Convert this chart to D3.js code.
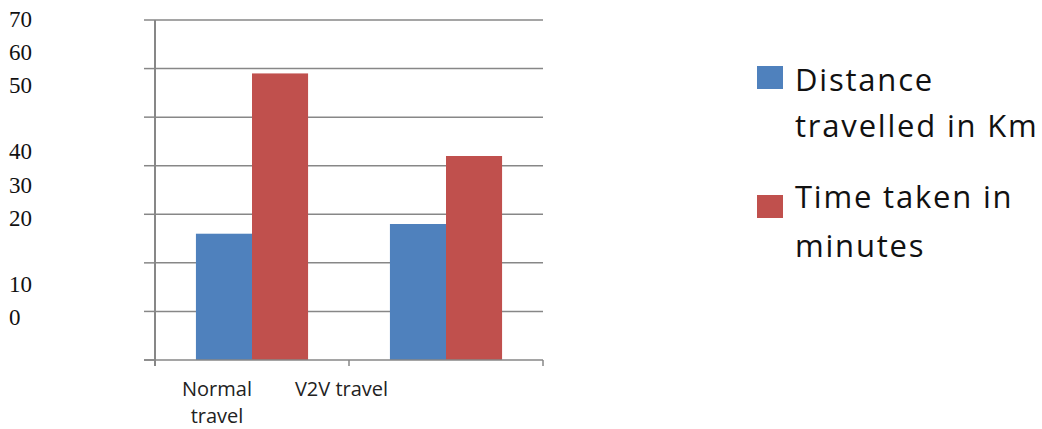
<!DOCTYPE html>
<html>
<head>
<meta charset="utf-8">
<script src="https://cdn.jsdelivr.net/npm/d3@7"></script>
<style>
  html, body { margin: 0; padding: 0; background: #fff; }
  svg { display: block; }
</style>
</head>
<body>
<svg id="chart" width="1042" height="429"></svg>
<script>
// ---- data ----
const categories = ["Normal travel", "V2V travel"];
const seriesNames = ["Distance travelled in Km", "Time taken in minutes"];
const distanceKm = [26, 28];
const timeMinutes = [59, 42];
const yTickValues = [0, 10, 20, 30, 40, 50, 60, 70];
// stray y labels as they appear in the picture (blank lines included)
const yLabelLines = ["70", "60", "50", "", "40", "30", "20", "", "10", "0"];
const categoryLabelLines = [["Normal", "travel"], ["V2V travel"]];
const legendLines = [["Distance", "travelled in Km"], ["Time taken in", "minutes"]];

(function () {
const colors = ["#4F81BD", "#C0504D"];
const gridColor = "#878787";

const svg = d3.select("#chart");
const pLeft = 155, pRight = 543, pTop = 20, pBottom = 360;

const y = d3.scaleLinear().domain([0, 70]).range([pBottom, pTop]);
const x0 = d3.scaleBand().domain(categories).range([pLeft, pRight]).padding(0);
const x1 = d3.scaleBand().domain(seriesNames).range([0, x0.bandwidth()]).paddingInner(0).paddingOuter(0.73);

const table = categories.map((c, i) => ({ cat: c, values: [distanceKm[i], timeMinutes[i]] }));

// gridlines
svg.append("g").selectAll("line").data(yTickValues.filter(v => v > 0)).join("line")
  .attr("x1", pLeft).attr("x2", pRight)
  .attr("y1", d => y(d)).attr("y2", d => y(d))
  .attr("stroke", gridColor).attr("stroke-width", 1.5);

// left ticks
svg.append("g").selectAll("line").data(yTickValues).join("line")
  .attr("x1", pLeft - 11).attr("x2", pLeft)
  .attr("y1", d => y(d)).attr("y2", d => y(d))
  .attr("stroke", gridColor).attr("stroke-width", 1.5);

// bars
const groups = svg.append("g").selectAll("g").data(table).join("g")
  .attr("transform", d => `translate(${x0(d.cat)},0)`);
groups.selectAll("rect").data(d => d.values.map((v, j) => ({ s: seriesNames[j], v, j }))).join("rect")
  .attr("x", d => x1(d.s))
  .attr("width", x1.bandwidth())
  .attr("y", d => y(d.v))
  .attr("height", d => y(0) - y(d.v))
  .attr("fill", d => colors[d.j]);

// y axis line
svg.append("line").attr("x1", pLeft).attr("x2", pLeft).attr("y1", pTop).attr("y2", pBottom + 6)
  .attr("stroke", gridColor).attr("stroke-width", 2);
// x axis line
svg.append("line").attr("x1", pLeft - 11).attr("x2", pRight).attr("y1", pBottom).attr("y2", pBottom)
  .attr("stroke", gridColor).attr("stroke-width", 1.5);
// x category boundary ticks
const bounds = categories.map(c => x0(c)).concat([x0(categories[categories.length - 1]) + x0.bandwidth()]);
svg.append("g").selectAll("line").data(bounds.slice(1)).join("line")
  .attr("x1", d => d).attr("x2", d => d).attr("y1", pBottom).attr("y2", pBottom + 6)
  .attr("stroke", gridColor).attr("stroke-width", 1.5);

// stray y labels (serif)
svg.append("g").selectAll("text").data(yLabelLines).join("text")
  .attr("x", 9).attr("y", (d, i) => 27 + i * 33.1)
  .attr("font-family", "'Liberation Serif', 'Times New Roman', serif")
  .attr("font-size", 23).attr("fill", "#111")
  .text(d => d);

// category labels (offset as in picture)
const catLabelCenters = [217, 341.5];
categories.forEach((c, i) => {
  const t = svg.append("text")
    .attr("font-family", "'Open Sans', sans-serif").attr("font-size", 20)
    .attr("fill", "#222").attr("text-anchor", "middle");
  categoryLabelLines[i].forEach((ln, k) => {
    t.append("tspan").attr("x", catLabelCenters[i]).attr("y", 396 + k * 27).text(ln);
  });
});

// legend
const legendTop = [66, 195];
const legendBase = [[91, 137], [208, 257]];
seriesNames.forEach((s, i) => {
  svg.append("rect").attr("x", 757).attr("y", legendTop[i]).attr("width", 26).attr("height", 23)
    .attr("fill", colors[i]);
  const t = svg.append("text")
    .attr("font-family", "'Open Sans', sans-serif").attr("font-size", 31)
    .attr("letter-spacing", 1.8).attr("fill", "#111");
  legendLines[i].forEach((ln, k) => {
    t.append("tspan").attr("x", 795).attr("y", legendBase[i][k]).text(ln);
  });
});
})();
</script>
</body>
</html>
